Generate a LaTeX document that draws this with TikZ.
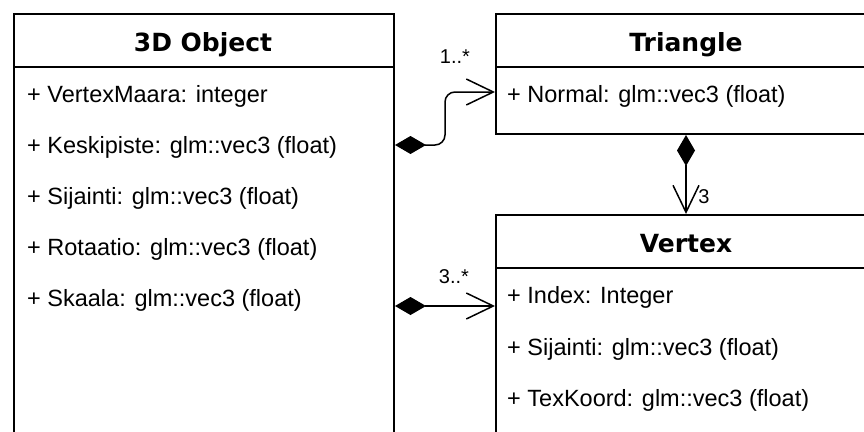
\documentclass[tikz,border=0pt]{standalone}
\usepackage{fontspec}
\setmainfont{Liberation Sans}
\newfontfamily\attrfamily{Liberation Sans}
\newfontfamily\ttlfamily{DejaVu Sans}
\newcommand\attrfont{\attrfamily\fontsize{23.5}{28}\selectfont}
\newcommand\ttlfont{\ttlfamily\bfseries\fontsize{25}{30}\selectfont}
\newcommand\multfont{\attrfamily\fontsize{20}{24}\selectfont}
\usetikzlibrary{arrows.meta}
\begin{document}
\begin{tikzpicture}[x=1pt,y=-1pt,
  box/.style={draw, line width=2pt, minimum width=380pt, inner sep=0pt, anchor=north west},
  attr/.style={anchor=base west, inner sep=0pt, font=\attrfont},
  ttl/.style={anchor=base, inner sep=0pt, font=\ttlfont},
  conn/.style={line width=1.5pt},
  comp/.style={conn, {Diamond[length=31pt,width=18pt,fill=black]}-{Straight Barb[length=27pt,width=26pt]}},
  mult/.style={font=\multfont, inner sep=0pt, anchor=base}]
\useasboundingbox (0,0) rectangle (864,431);
\clip (0,0) rectangle (864,431);
\fill[white] (0,0) rectangle (864,431);

% 3D Object
\node[box, minimum height=53pt] (objH) at (13,13) {};
\node[box, minimum height=500pt] (objB) at (13,66) {};
\node[ttl] (objT) at (203,51) {3D Object};
\node[attr] (o1) at (27,102) {+ VertexMaara: integer};
\node[attr] (o2) at (27,153) {+ Keskipiste: glm::vec3 (float)};
\node[attr] (o3) at (27,204) {+ Sijainti: glm::vec3 (float)};
\node[attr] (o4) at (27,255) {+ Rotaatio: glm::vec3 (float)};
\node[attr] (o5) at (27,306) {+ Skaala: glm::vec3 (float)};

% Triangle
\node[box, minimum width=380pt, minimum height=53pt] (triH) at (495,13) {};
\node[box, minimum width=380pt, minimum height=67pt] (triB) at (495,66) {};
\node[ttl] (triT) at (686,51) {Triangle};
\node[attr] (t1) at (507,102) {+ Normal: glm::vec3 (float)};

% Vertex
\node[box, minimum width=380pt, minimum height=53pt] (vtxH) at (495,214) {};
\node[box, minimum width=380pt, minimum height=400pt] (vtxB) at (495,267) {};
\node[ttl] (vtxT) at (686,252) {Vertex};
\node[attr] (v1) at (507,303) {+ Index: Integer};
\node[attr] (v2) at (507,355) {+ Sijainti: glm::vec3 (float)};
\node[attr] (v3) at (507,406) {+ TexKoord: glm::vec3 (float)};

% connectors
\draw[comp, rounded corners=10pt] (objB.east |- 0,145) -- (445,145) -- (445,92) -- (triB.west |- 0,92);
\draw[comp] (triB.south) -- (vtxH.north);
\draw[comp] (objB.east |- 0,306) -- (vtxB.west |- 0,306);

% multiplicities
\node[mult] (m1) at (455,63) {1..*};
\node[mult] (m2) at (704,203) {3};
\node[mult] (m3) at (454,283) {3..*};
\end{tikzpicture}
\end{document}
